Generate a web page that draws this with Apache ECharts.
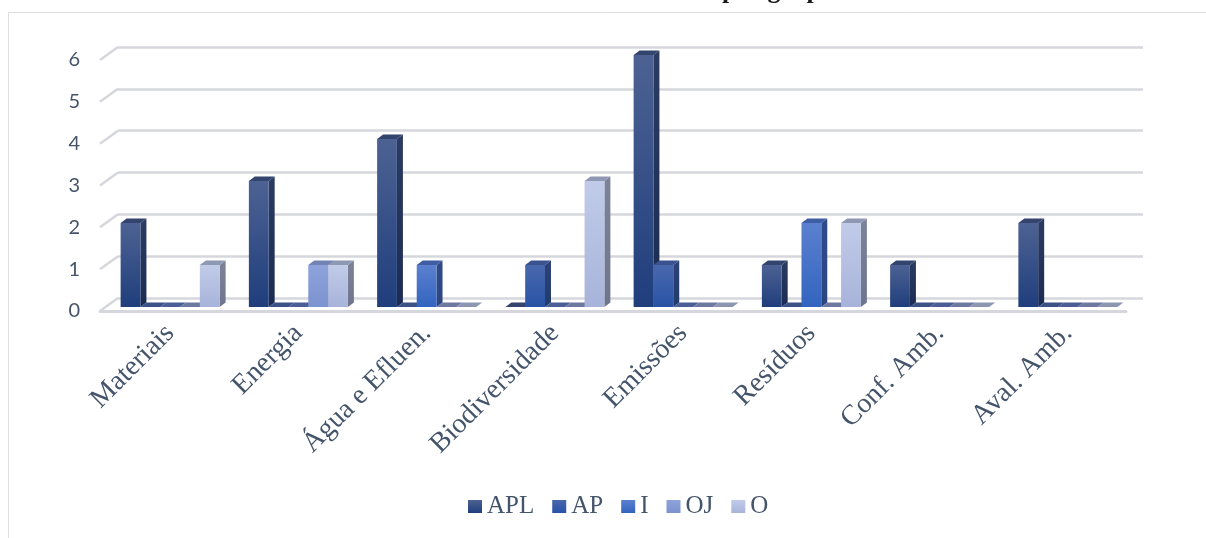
<!DOCTYPE html>
<html>
<head>
<meta charset="utf-8">
<script src="https://cdn.jsdelivr.net/npm/echarts@6/dist/echarts.min.js"></script>
<style>
  html, body { margin: 0; padding: 0; background: #ffffff; }
  #chart { width: 1206px; height: 538px; }
</style>
</head>
<body>
<div id="chart"></div>
<script>
// Environmental topics disclosed, by group
const categories = ['Materiais', 'Energia', 'Água e Efluen.', 'Biodiversidade', 'Emissões', 'Resíduos', 'Conf. Amb.', 'Aval. Amb.'];
const seriesNames = ['APL', 'AP', 'I', 'OJ', 'O'];
const aplValues = [2, 3, 4, 0, 6, 1, 1, 2];
const apValues  = [0, 0, 0, 1, 1, 0, 0, 0];
const iValues   = [0, 0, 1, 0, 0, 2, 0, 0];
const ojValues  = [0, 1, 0, 0, 0, 0, 0, 0];
const oValues   = [1, 1, 0, 3, 0, 2, 0, 0];
const yTicks = [0, 1, 2, 3, 4, 5, 6];
const titleText = 'por grupo';

const seriesValues = [aplValues, apValues, iValues, ojValues, oValues];

// Face colours for each series: front gradient, side gradient, top face, flat (zero) slab
const shades = [
  { front: ['#4d6293', '#1f3e7c'], side: ['#2c3b62', '#1b2b52'], top: '#33446e', flat: '#34446e' },
  { front: ['#4968ad', '#2853a6'], side: ['#2d4274', '#213a6c'], top: '#3a5290', flat: '#3c5186' },
  { front: ['#5b80cf', '#3264bf'], side: ['#304b88', '#2a4580'], top: '#3e5da3', flat: '#4b5f96' },
  { front: ['#8ea3db', '#7b93cf'], side: ['#5d6d9a', '#56668f'], top: '#7283b3', flat: '#6e79a2' },
  { front: ['#c1cbe9', '#a7b3da'], side: ['#7d8499', '#6d748c'], top: '#8f98b3', flat: '#8d95b0' }
];

const textColor = '#44546A';
const gridColor = '#d6d7dc';
const DEPTH_X = 6, DEPTH_Y = 4.5;   // bar depth
const WALL_X = 18, WALL_Y = 13;     // floor / wall depth

function vGrad(c) {
  return new echarts.graphic.LinearGradient(0, 0, 0, 1, [
    { offset: 0, color: c[0] }, { offset: 1, color: c[1] }
  ]);
}

// One renderer per series: draws a box with front, side and top faces
function barRenderer(si) {
  return function (params, api) {
    const cat = api.value(0), val = api.value(1);
    const base = api.coord([cat, 0]);
    const tip = api.coord([cat, val]);
    const band = api.size([1, 0])[0];
    const groupW = band * 0.772;
    const bw = groupW / seriesNames.length;
    const x0 = base[0] - groupW / 2 + si * bw;
    const x1 = x0 + bw;
    const yb = base[1], yt = tip[1];
    const s = shades[si];
    const children = [];
    if (val > 0) {
      children.push({
        type: 'polygon',
        shape: { points: [[x1, yt], [x1 + DEPTH_X, yt - DEPTH_Y], [x1 + DEPTH_X, yb - DEPTH_Y], [x1, yb]] },
        style: { fill: vGrad(s.side) }
      });
      children.push({
        type: 'polygon',
        shape: { points: [[x0, yt], [x0 + DEPTH_X, yt - DEPTH_Y], [x1 + DEPTH_X, yt - DEPTH_Y], [x1, yt]] },
        style: { fill: s.top }
      });
      children.push({
        type: 'rect',
        shape: { x: x0, y: yt, width: bw, height: yb - yt },
        style: { fill: vGrad(s.front) }
      });
    } else {
      children.push({
        type: 'polygon',
        shape: { points: [[x0, yb], [x0 + DEPTH_X, yb - DEPTH_Y], [x1 + DEPTH_X, yb - DEPTH_Y], [x1, yb]] },
        style: { fill: s.flat }
      });
    }
    return { type: 'group', children: children };
  };
}

const barSeries = seriesNames.map(function (name, si) {
  return {
    name: name,
    type: 'custom',
    xAxisIndex: 0,
    yAxisIndex: 0,
    z: 3,
    itemStyle: { color: vGrad(shades[si].front) },
    renderItem: barRenderer(si),
    data: seriesValues[si].map(function (v, ci) { return [ci, v]; })
  };
});

// Slanted edges joining the front value axis to the back wall
const wallEdges = {
  type: 'custom',
  xAxisIndex: 2,
  yAxisIndex: 2,
  z: 1,
  silent: true,
  legendHoverLink: false,
  renderItem: function (params, api) {
    const p = api.coord([0, api.value(1)]);
    return {
      type: 'line',
      shape: { x1: p[0], y1: p[1], x2: p[0] + WALL_X, y2: p[1] - WALL_Y },
      style: { stroke: gridColor, lineWidth: 2.5 }
    };
  },
  data: yTicks.map(function (v) { return [0, v]; })
};

const chart = echarts.init(document.getElementById('chart'), null, { renderer: 'canvas' });

chart.setOption({
  backgroundColor: '#ffffff',
  animation: false,
  graphic: [
    {
      type: 'rect',
      silent: true,
      shape: { x: 8.5, y: 12.5, width: 1300, height: 600 },
      style: { fill: null, stroke: '#dcdee2', lineWidth: 1 }
    },
    {
      type: 'text',
      silent: true,
      x: 722,
      y: -9,
      style: {
        text: titleText,
        font: 'bold 26px "Liberation Serif"',
        fill: '#1a1a1a',
        verticalAlign: 'middle',
        align: 'left'
      }
    }
  ],
  legend: {
    data: seriesNames,
    left: 463,
    top: 489,
    icon: 'rect',
    itemWidth: 14,
    itemHeight: 13,
    itemGap: 18,
    textStyle: { fontFamily: 'Liberation Serif', fontSize: 25, color: textColor }
  },
  grid: [
    { left: 106, right: 74, top: 55, bottom: 231 },   // bars
    { left: 118, right: 63, top: 47, bottom: 240 },   // back wall
    { left: 100, right: 80, top: 60, bottom: 227 }    // front edge / value labels
  ],
  xAxis: [
    {
      gridIndex: 0,
      type: 'category',
      data: categories,
      axisLine: { show: false },
      axisTick: { show: false },
      axisLabel: {
        interval: 0,
        rotate: 45,
        margin: 22,
        fontFamily: 'Liberation Serif',
        fontSize: 28,
        color: textColor
      }
    },
    { gridIndex: 1, type: 'value', min: 0, max: 1, show: false },
    {
      gridIndex: 2,
      type: 'value',
      min: 0,
      max: 1,
      axisLine: { show: true, lineStyle: { color: gridColor, width: 3 } },
      axisTick: { show: false },
      axisLabel: { show: false },
      splitLine: { show: false }
    }
  ],
  yAxis: [
    { gridIndex: 0, type: 'value', min: 0, max: 6, interval: 1, show: false },
    {
      gridIndex: 1,
      type: 'value',
      min: 0,
      max: 6,
      interval: 1,
      axisLine: { show: false },
      axisTick: { show: false },
      axisLabel: { show: false },
      splitLine: { show: true, lineStyle: { color: gridColor, width: 2.5 } }
    },
    {
      gridIndex: 2,
      type: 'value',
      min: 0,
      max: 6,
      interval: 1,
      axisLine: { show: false },
      axisTick: { show: false },
      splitLine: { show: false },
      axisLabel: {
        margin: 20,
        fontFamily: 'Lato',
        fontSize: 20,
        color: textColor
      }
    }
  ],
  series: barSeries.concat([wallEdges])
});
</script>
</body>
</html>
